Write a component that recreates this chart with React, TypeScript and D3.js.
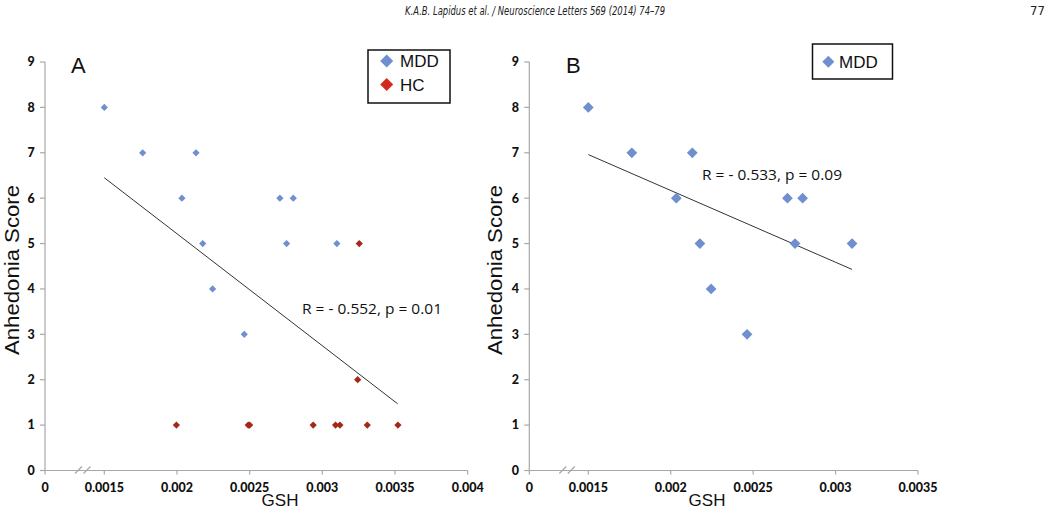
import React from "react";
import * as d3 from "d3";

// ---- data ----
const yTicks = [0, 1, 2, 3, 4, 5, 6, 7, 8, 9];
const xTicksA = [0, 0.0015, 0.002, 0.0025, 0.003, 0.0035, 0.004];
const xTickLabelsA = ["0", "0.0015", "0.002", "0.0025", "0.003", "0.0035", "0.004"];
const xTicksB = [0, 0.0015, 0.002, 0.0025, 0.003, 0.0035];
const xTickLabelsB = ["0", "0.0015", "0.002", "0.0025", "0.003", "0.0035"];

const mddGSH = [0.0015, 0.001764, 0.002131, 0.002034, 0.002177, 0.002245, 0.002463, 0.002708, 0.0028, 0.002754, 0.0031];
const mddScore = [8, 7, 7, 6, 5, 4, 3, 6, 6, 5, 5];

const hcGSH = [0.003254, 0.003243, 0.001996, 0.00249, 0.0025, 0.002937, 0.003091, 0.003121, 0.003309, 0.00352];
const hcScore = [5, 2, 1, 1, 1, 1, 1, 1, 1, 1];

const fitA_x = [0.0015, 0.003518];
const fitA_y = [6.45, 1.47];
const fitB_x = [0.0015, 0.0031];
const fitB_y = [6.96, 4.43];

const annotA = "R = - 0.552, p = 0.01";
const annotB = "R = - 0.533, p = 0.09";
const header = "K.A.B. Lapidus et al. / Neuroscience Letters 569 (2014) 74–79";
const pageNo = "77";

const BLUE = "#6f8fcf";
const RED_PT = "#a3281a";
const RED_LEG = "#d42a1e";
const AXIS = "#a8a8a8";

const y = d3.scaleLinear().domain([0, 9]).range([470.5, 62]);
const xA = d3.scaleLinear().domain([0, 0.0015, 0.004]).range([45, 104.3, 467.7]);
const xB = d3.scaleLinear().domain([0, 0.0015, 0.0035]).range([529.3, 588.3, 918]);

const diamond = (size: number) => d3.symbol(d3.symbolSquare, size)();

function Panel({ x, ticks, labels, letter, letterX, yLabelX, gshX, points, fit, annot, annotX, annotY, ptSize }: any) {
  const x0 = x.range()[0];
  const x1 = x.range()[x.range().length - 1];
  const y0 = y(0);
  const line = d3.line<[number, number]>().x((d) => x(d[0])).y((d) => y(d[1]));
  return (
    <g>
      {/* y axis */}
      <line x1={x0} x2={x0} y1={y(9)} y2={y0} stroke={AXIS} strokeWidth={1.2} />
      {yTicks.map((t) => (
        <g key={"y" + t}>
          <line x1={x0 - 5} x2={x0} y1={y(t)} y2={y(t)} stroke={AXIS} strokeWidth={1.2} />
          <text x={x0 - 14} y={y(t)} dy="0.35em" textAnchor="middle" fontFamily="Lato" fontWeight={900} fontSize={12.5} fill="#111">
            {t}
          </text>
        </g>
      ))}
      {/* x axis */}
      <line x1={x0} x2={x1} y1={y0} y2={y0} stroke={AXIS} strokeWidth={1.2} />
      {ticks.map((t: number, i: number) => (
        <g key={"x" + i}>
          <line x1={x(t)} x2={x(t)} y1={y0} y2={y0 + 4} stroke={AXIS} strokeWidth={1.2} />
          <text x={x(t)} y={492} textAnchor="middle" fontFamily="Lato" fontWeight={900} fontSize={12.5} fill="#111">
            {labels[i]}
          </text>
        </g>
      ))}
      {/* axis break marks */}
      {[0, 8.5].map((o) => (
        <line key={"b" + o} x1={x0 + 30 + o} y1={y0 + 3} x2={x0 + 37 + o} y2={y0 - 4} stroke={AXIS} strokeWidth={1.2} />
      ))}
      {/* labels */}
      <text x={gshX} y={506} textAnchor="middle" fontFamily="Liberation Sans, Arial" fontSize={17} fill="#111">GSH</text>
      <text transform={`translate(${yLabelX},270) rotate(-90)`} textAnchor="middle" dy="0.35em" fontFamily="Liberation Sans, Arial" fontSize={20} textLength={170} lengthAdjust="spacingAndGlyphs" fill="#111">
        Anhedonia Score
      </text>
      <text x={letterX} y={73} fontFamily="Liberation Sans, Arial" fontSize={22} fill="#111">{letter}</text>
      {/* fit line */}
      <path d={line(fit) || ""} stroke="#333" strokeWidth={1} fill="none" />
      {/* points */}
      {points.map((p: any, i: number) => (
        <path key={"p" + i} d={diamond(ptSize) || ""} transform={`translate(${x(p.x)},${y(p.y)}) rotate(45)`} fill={p.c} />
      ))}
      <text x={annotX} y={annotY} fontFamily="Open Sans" fontSize={15} textLength={140} lengthAdjust="spacingAndGlyphs" fill="#111">
        {annot}
      </text>
    </g>
  );
}

export default function App() {
  const ptsA = [
    ...mddGSH.map((g, i) => ({ x: g, y: mddScore[i], c: BLUE })),
    ...hcGSH.map((g, i) => ({ x: g, y: hcScore[i], c: RED_PT })),
  ];
  const ptsB = mddGSH.map((g, i) => ({ x: g, y: mddScore[i], c: BLUE }));
  const fitA: [number, number][] = fitA_x.map((v, i) => [v, fitA_y[i]]);
  const fitB: [number, number][] = fitB_x.map((v, i) => [v, fitB_y[i]]);
  return (
    <svg width={1050} height={510} style={{ position: "absolute", left: 0, top: 0, background: "#fff" }}>
      <rect width={1050} height={510} fill="#fff" />
      <text x={535} y={15} textAnchor="middle" fontFamily="Liberation Sans Narrow, DejaVu Sans Condensed, sans-serif" fontStyle="italic" fontSize={13} textLength={260} lengthAdjust="spacingAndGlyphs" fill="#222">
        {header}
      </text>
      <text x={1045} y={15} textAnchor="end" fontFamily="Liberation Sans Narrow, DejaVu Sans Condensed, sans-serif" fontSize={13} fill="#222">{pageNo}</text>

      <Panel x={xA} ticks={xTicksA} labels={xTickLabelsA} letter="A" letterX={71} yLabelX={12} gshX={280}
        points={ptsA} fit={fitA} annot={annotA} annotX={302} annotY={314} ptSize={26} />
      <Panel x={xB} ticks={xTicksB} labels={xTickLabelsB} letter="B" letterX={566} yLabelX={495} gshX={707}
        points={ptsB} fit={fitB} annot={annotB} annotX={702} annotY={180} ptSize={58} />

      {/* legend A */}
      <rect x={368} y={50} width={82} height={53} fill="#fff" stroke="#111" strokeWidth={1.5} />
      <path d={diamond(85) || ""} transform="translate(386.7,61) rotate(45)" fill={BLUE} />
      <text x={400} y={67} fontFamily="Liberation Sans, Arial" fontSize={17} fill="#111">MDD</text>
      <path d={diamond(85) || ""} transform="translate(386.7,84.5) rotate(45)" fill={RED_LEG} />
      <text x={400} y={90.5} fontFamily="Liberation Sans, Arial" fontSize={17} fill="#111">HC</text>

      {/* legend B */}
      <rect x={812.5} y={44} width={80} height={35} fill="#fff" stroke="#111" strokeWidth={1.5} />
      <path d={diamond(72) || ""} transform="translate(828.3,61.7) rotate(45)" fill={BLUE} />
      <text x={839} y={67.7} fontFamily="Liberation Sans, Arial" fontSize={17} fill="#111">MDD</text>
    </svg>
  );
}
